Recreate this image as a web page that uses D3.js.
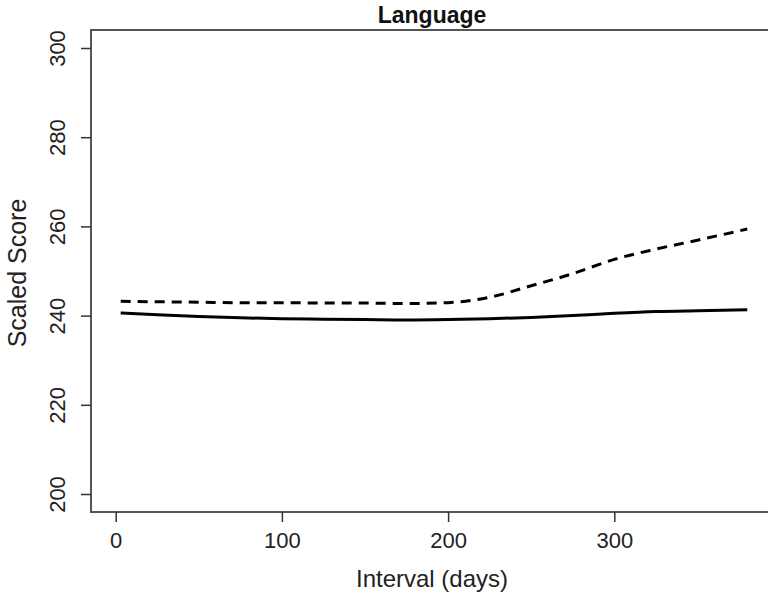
<!DOCTYPE html>
<html><head><meta charset="utf-8">
<script src="https://cdn.jsdelivr.net/npm/d3@7/dist/d3.min.js"></script>
<style>body{margin:0;background:#fff}svg{display:block}text{font-family:"Liberation Sans",Arial,sans-serif}</style>
</head><body>
<svg id="c" width="768" height="599"></svg>
<script>
const days = [3, 25, 50, 75, 100, 125, 150, 175, 200, 225, 250, 275, 300, 325, 350, 380];
const dashedSeries = [243.2, 243.1, 243.0, 242.9, 242.9, 242.8, 242.8, 242.7, 242.9, 244.1, 246.7, 249.4, 252.6, 254.9, 256.9, 259.4];
const solidSeries = [240.6, 240.2, 239.8, 239.5, 239.3, 239.2, 239.1, 239.0, 239.1, 239.3, 239.6, 240.0, 240.5, 240.9, 241.1, 241.3];
const xTicks = [0, 100, 200, 300];
const yTicks = [200, 220, 240, 260, 280, 300];
const title = "Language";
const xTitle = "Interval (days)";
const yTitle = "Scaled Score";

const svg = d3.select("#c");
const box = {left: 91, top: 30, right: 773, bottom: 512};
const x = d3.scaleLinear().domain([0, 300]).range([115.7, 614.3]);
const y = d3.scaleLinear().domain([200, 300]).range([494, 48]);
const axisColor = "#555";

svg.append("rect").attr("x", box.left).attr("y", box.top)
  .attr("width", box.right - box.left).attr("height", box.bottom - box.top)
  .attr("fill", "none").attr("stroke", axisColor).attr("stroke-width", 2);

const xa = svg.append("g").attr("transform", `translate(0,${box.bottom})`)
  .call(d3.axisBottom(x).tickValues(xTicks).tickSize(10).tickSizeOuter(0));
xa.select(".domain").remove();
xa.selectAll("line").attr("stroke", "#333").attr("stroke-width", 1.5);
xa.selectAll("text").attr("font-size", 22).attr("fill", "#222")
  .attr("y", 36).attr("dy", 0);

const ya = svg.append("g").attr("transform", `translate(${box.left},0)`)
  .call(d3.axisLeft(y).tickValues(yTicks).tickSize(10).tickSizeOuter(0));
ya.select(".domain").remove();
ya.selectAll("line").attr("stroke", "#333").attr("stroke-width", 1.5);
ya.selectAll("text").attr("font-size", 22).attr("fill", "#222")
  .attr("text-anchor", "middle").attr("x", 0).attr("dy", 0)
  .attr("transform", "translate(-26,0) rotate(-90)");

const line = d3.line().x((d, i) => x(days[i])).y(d => y(d)).curve(d3.curveMonotoneX);
svg.append("path").datum(dashedSeries).attr("d", line).attr("fill", "none")
  .attr("stroke", "#000").attr("stroke-width", 3).attr("stroke-dasharray", "10,7");
svg.append("path").datum(solidSeries).attr("d", line).attr("fill", "none")
  .attr("stroke", "#000").attr("stroke-width", 3);

svg.append("text").attr("x", 432).attr("y", 23).attr("text-anchor", "middle")
  .attr("font-size", 23).attr("font-weight", "bold").attr("fill", "#111").text(title);
svg.append("text").attr("x", 432).attr("y", 587).attr("text-anchor", "middle")
  .attr("font-size", 24).attr("fill", "#222").text(xTitle);
svg.append("text").attr("transform", "translate(26,273) rotate(-90)").attr("text-anchor", "middle")
  .attr("font-size", 25).attr("fill", "#222").text(yTitle);
</script>
</body></html>
